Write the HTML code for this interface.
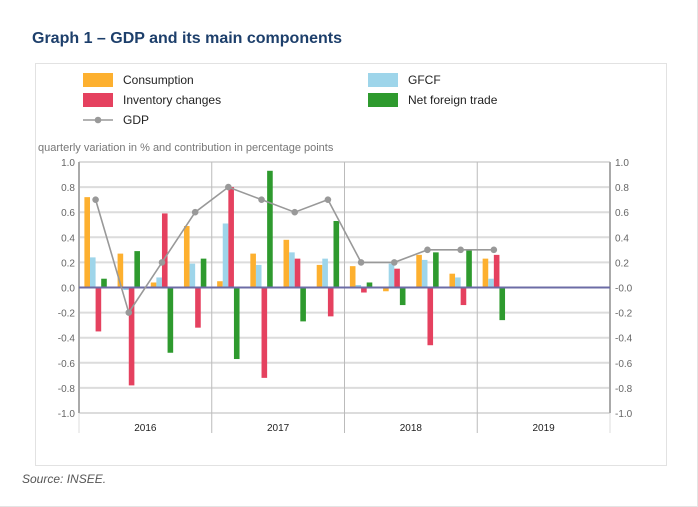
<!DOCTYPE html>
<html><head><meta charset="utf-8"><style>
body{margin:0;background:#fff;width:698px;height:507px;overflow:hidden;font-family:"Liberation Sans",sans-serif;}
.frame{position:absolute;left:0;top:0;width:697px;height:506px;border-right:1px solid #e4e4e4;border-bottom:1px solid #e4e4e4}
</style></head><body>
<div class="frame"></div>
<div style="position:absolute;left:32px;top:30px;font-size:16px;font-weight:bold;color:#1d3f6b">Graph 1 – GDP and its main components</div>
<div style="position:absolute;left:35px;top:63px;width:630px;height:401px;border:1px solid #e2e2e2;background:#fff"></div>
<svg id="c" width="698" height="507" style="position:absolute;left:0;top:0"></svg>
<div style="position:absolute;left:22px;top:472px;font-size:12px;font-style:italic;color:#555">Source: INSEE.</div>
<script>
const years=["2016","2017","2018","2019"];
const consumption=[0.72,0.27,0.04,0.49,0.05,0.27,0.38,0.18,0.17,-0.03,0.26,0.11,0.23];
const gfcf=[0.24,-0.02,0.08,0.19,0.51,0.18,0.28,0.23,0.02,0.19,0.22,0.08,0.07];
const inventory=[-0.35,-0.78,0.59,-0.32,0.80,-0.72,0.23,-0.23,-0.04,0.15,-0.46,-0.14,0.26];
const netTrade=[0.07,0.29,-0.52,0.23,-0.57,0.93,-0.27,0.53,0.04,-0.14,0.28,0.30,-0.26];
const gdp=[0.7,-0.2,0.2,0.6,0.8,0.7,0.6,0.7,0.2,0.2,0.3,0.3,0.3];
const ticks=[1.0,0.8,0.6,0.4,0.2,0,-0.2,-0.4,-0.6,-0.8,-1.0];
const NS="http://www.w3.org/2000/svg",svg=document.getElementById('c');
const L=79,R=610,T=162,B=413,nQ=16,qw=(R-L)/nQ;
const y=v=>T+(1-v)/2*(B-T);
const xq=i=>L+qw*(i+0.5);
function mk(t,a,p){const e=document.createElementNS(NS,t);for(const k in a)e.setAttribute(k,a[k]);(p||svg).appendChild(e);return e;}
ticks.forEach(t=>{
 const g=mk('line',{x1:L,x2:R,y1:y(t),y2:y(t),stroke:'#dcdcdc','stroke-width':2});
 
 
 const s=t.toFixed(1);
 const a=mk('text',{x:75,y:y(t)+4,'text-anchor':'end','font-size':10,fill:'#666'});a.textContent=s;
 
 
 const b=mk('text',{x:615,y:y(t)+4,'font-size':10,fill:'#666'});b.textContent=t===0?'-0.0':s;
 
 
});
mk('line',{x1:L,x2:L,y1:T,y2:B,stroke:'#aaa','stroke-width':2});
mk('line',{x1:R,x2:R,y1:T,y2:B,stroke:'#aaa','stroke-width':2});
years.forEach((yr,i)=>{
 const x0=L+qw*4*i;
 if(i>0){const l=mk('line',{x1:x0,x2:x0,y1:T,y2:433,stroke:'#bbb','stroke-width':1});
 
 }
 const t=mk('text',{x:x0+qw*2,y:431,'text-anchor':'middle','font-size':10,fill:'#222'});t.textContent=yr;
 
 
});
mk('line',{x1:L,x2:L,y1:B,y2:433,stroke:'#ddd','stroke-width':1});
mk('line',{x1:R,x2:R,y1:B,y2:433,stroke:'#ddd','stroke-width':1});
const series=[[consumption,'#fdb02f','bar-consumption'],[gfcf,'#9ed5ea','bar-gfcf'],[inventory,'#e5415f','bar-inventory'],[netTrade,'#2e9a2e','bar-net-trade']];
const bw=5.6;
series.forEach((s,k)=>{s[0].forEach((v,i)=>{
 const x=xq(i)-2*bw+k*bw;
 const r=mk('rect',{x:x,y:Math.min(y(v),y(0)),width:bw,height:Math.abs(y(v)-y(0)),fill:s[1]});
 
 
});});
mk('line',{x1:L,x2:R,y1:y(0),y2:y(0),stroke:'#6c6ca6','stroke-width':2});
const pl=mk('polyline',{points:gdp.map((v,i)=>xq(i)+','+y(v)).join(' '),fill:'none',stroke:'#999','stroke-width':1.6});


gdp.forEach((v,i)=>{const c=mk('circle',{cx:xq(i),cy:y(v),r:3.3,fill:'#999'});
 
 });
const at=mk('text',{x:38,y:151,'font-size':11,fill:'#777'});at.textContent='quarterly variation in % and contribution in percentage points';


const leg=[['Consumption','#fdb02f',83,80],['Inventory changes','#e5415f',83,100],['GFCF','#9ed5ea',368,80],['Net foreign trade','#2e9a2e',368,100]];
leg.forEach(l=>{
 const r=mk('rect',{x:l[2],y:l[3]-7,width:30,height:14,fill:l[1]});
 
 
 const t=mk('text',{x:l[2]+40,y:l[3]+4,'font-size':12,fill:'#222'});t.textContent=l[0];
 
 
});
mk('line',{x1:83,x2:113,y1:120,y2:120,stroke:'#999','stroke-width':1.6});
mk('circle',{cx:98,cy:120,r:3.3,fill:'#999'});
const gt=mk('text',{x:123,y:124,'font-size':12,fill:'#222'});gt.textContent='GDP';


</script>
</body></html>
